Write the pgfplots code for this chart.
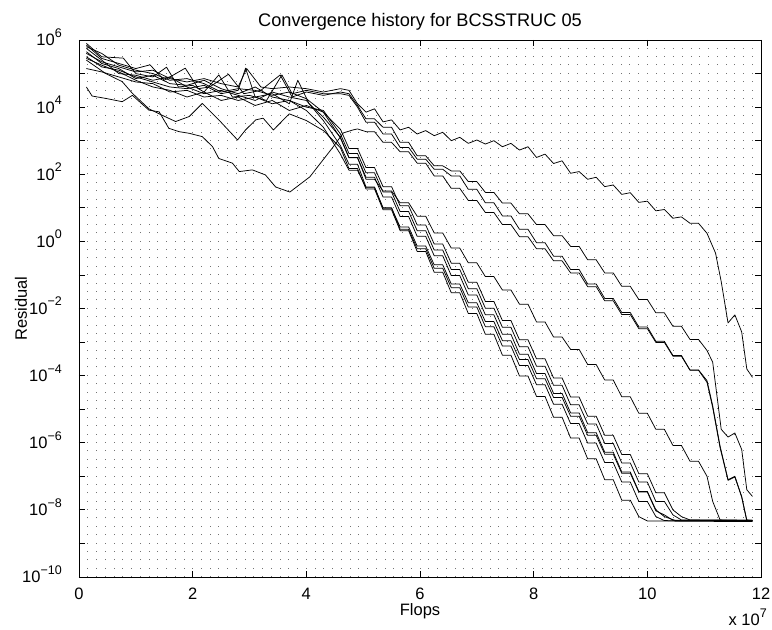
\documentclass[border=0pt]{standalone}
\usepackage{fontspec}
\setmainfont{Liberation Sans}
\usepackage{pgfplots}
\pgfplotsset{compat=1.18}
\newcommand{\ep}[1]{10\raisebox{8.5pt}{\fontsize{12.5}{12.5}\selectfont #1}}

\begin{document}
\begin{tikzpicture}
\begin{axis}[
  width=682pt, height=537pt, scale only axis,
  xmin=0, xmax=12,
  ymode=log, ymin=1e-10, ymax=1e6,
  xtick={0,2,4,6,8,10,12},
  xticklabels={0,2,4,6,8,10,12},
  minor x tick num=12,
  ytick={1e-10,1e-9,1e-8,1e-7,1e-6,1e-5,1e-4,1e-3,1e-2,1e-1,1,1e1,1e2,1e3,1e4,1e5,1e6},
  yticklabels={\ep{−10},,\ep{−8},,\ep{−6},,\ep{−4},,\ep{−2},,\ep{0},,\ep{2},,\ep{4},,\ep{6}},
  yminorticks=false,
  tick align=inside,
  major tick length=6pt, minor tick length=0pt,
  tick style={black, line width=0.8pt},
  axis line style={black, line width=0.8pt},
  xmajorgrids=true, xminorgrids=true,
  major grid style={black!55, line width=0.8pt, dash pattern=on 0.8pt off 7.59pt},
  minor grid style={black!55, line width=0.8pt, dash pattern=on 0.8pt off 7.59pt},
  tick label style={font=\fontsize{16.5}{19}\selectfont, inner sep=0pt},
  xticklabel style={anchor=base, yshift=-22.3pt},
  yticklabel style={anchor=base east, xshift=-17pt, yshift=-5.9pt},
  clip=false,
  ln/.style={black, line width=0.75pt, line join=round},
]
% A: slowest, top curve
\addplot[ln] coordinates {(0.13,3.98e5)(0.4,2.24e5)(0.7,1.58e5)(1.0,1.12e5)(1.3,1.26e5)(1.6,7.08e4)(1.9,5.62e4)(2.2,7.08e4)(2.5,5.01e4)(2.8,3.98e4)(2.95,1.41e5)(3.2,3.98e4)(3.4,3.55e4)(3.7,3.98e4)(4.0,3.55e4)(4.3,2.82e4)(4.6,3.55e4)(4.75,3.16e4)(4.9,1.26e4)(5.05,7.08e3)(5.2,8.91e3)(5.35,3.63e3)(5.5,4.17e3)(5.65,2.09e3)(5.8,2.51e3)(5.95,1.58e3)(6.1,2.0e3)(6.25,1.41e3)(6.4,1.78e3)(6.55,1.0e3)(6.7,1.26e3)(6.85,832)(7.0,1.05e3)(7.15,794)(7.3,1.0e3)(7.45,661)(7.6,832)(7.75,525)(7.9,661)(8.05,316)(8.2,398)(8.35,209)(8.5,251)(8.65,107)(8.8,120)(8.95,70.8)(9.1,81.3)(9.25,42.7)(9.4,47.9)(9.55,25.1)(9.7,28.2)(9.85,14.5)(10.0,15.8)(10.15,8.13)(10.3,8.91)(10.45,4.90)(10.6,5.37)(10.75,3.47)(10.9,3.47)(11.05,1.74)(11.2,0.447)(11.3,0.0631)(11.42,3.72e-3)(11.54,6.46e-3)(11.66,2.0e-3)(11.75,1.58e-4)(11.85,8.91e-5)};
% B
\addplot[ln] coordinates {(0.13,7.08e5)(0.4,2.82e5)(0.7,2.0e5)(1.0,1.41e5)(1.25,1.82e5)(1.5,6.31e4)(1.87,1.45e5)(2.1,3.55e4)(2.3,3.98e4)(2.63,9.55e4)(2.9,2.51e4)(3.2,3.16e4)(3.54,9.12e4)(3.75,2.0e4)(4.0,2.82e4)(4.3,2.24e4)(4.6,2.82e4)(4.75,2.51e4)(4.9,1.12e4)(5.05,4.47e3)(5.2,4.47e3)(5.35,2.51e3)(5.5,2.51e3)(5.65,891)(5.8,891)(5.95,355)(6.1,355)(6.25,178)(6.4,178)(6.55,126)(6.7,126)(6.85,60.3)(7.0,60.3)(7.15,28.8)(7.3,28.8)(7.45,13.8)(7.6,13.8)(7.75,6.61)(7.9,6.61)(8.05,3.16)(8.2,3.16)(8.35,1.48)(8.5,1.48)(8.65,0.708)(8.8,0.708)(8.95,0.282)(9.1,0.282)(9.25,0.115)(9.4,0.115)(9.55,0.0457)(9.7,0.0457)(9.85,0.0186)(10.0,0.0186)(10.15,7.41e-3)(10.3,7.41e-3)(10.45,2.95e-3)(10.6,2.95e-3)(10.75,1.20e-3)(10.9,1.20e-3)(11.05,5.62e-4)(11.15,2.51e-4)(11.3,2.51e-6)(11.42,1.48e-6)(11.54,1.95e-6)(11.66,6.31e-7)(11.75,3.98e-8)(11.85,2.51e-8)};
% C
\addplot[ln] coordinates {(0.13,7.94e5)(0.4,3.16e5)(0.78,2.88e5)(1.0,1.0e5)(1.3,7.94e4)(1.54,1.55e5)(1.75,3.98e4)(2.0,4.47e4)(2.2,2.82e4)(2.46,9.12e4)(2.7,2.0e4)(3.0,2.24e4)(3.3,1.58e4)(3.57,9.12e4)(3.75,2.51e4)(4.0,3.16e4)(4.3,2.51e4)(4.6,2.51e4)(4.75,2.24e4)(4.9,1.0e4)(5.05,3.55e3)(5.2,3.55e3)(5.35,1.58e3)(5.5,1.58e3)(5.65,631)(5.8,631)(5.95,282)(6.1,282)(6.25,141)(6.4,141)(6.55,89.1)(6.7,89.1)(6.85,35.5)(7.0,35.5)(7.15,14.1)(7.3,14.1)(7.45,5.75)(7.6,5.75)(7.75,2.29)(7.9,2.29)(8.05,0.912)(8.2,0.912)(8.35,0.363)(8.5,0.363)(8.65,0.145)(8.8,0.145)(8.95,0.0537)(9.1,0.0537)(9.25,0.02)(9.4,0.02)(9.55,7.59e-3)(9.7,7.59e-3)(9.85,2.82e-3)(10.0,2.82e-3)(10.15,1.05e-3)(10.3,1.05e-3)(10.45,3.98e-4)(10.6,3.98e-4)(10.75,1.48e-4)(10.9,1.48e-4)(11.05,7.08e-5)(11.15,1.26e-5)(11.28,7.94e-7)(11.42,7.94e-8)(11.54,1.0e-7)(11.66,2.51e-8)(11.75,5.01e-9)(11.85,4.79e-9)};
% D (low start, dip near x=3.7)
\addplot[ln] coordinates {(0.13,3.98e4)(0.23,2.14e4)(0.47,1.82e4)(0.76,1.45e4)(0.94,2.24e4)(1.23,8.13e3)(1.41,7.24e3)(1.58,2.34e3)(1.76,1.86e3)(1.94,1.66e3)(2.17,1.32e3)(2.35,661)(2.46,295)(2.7,214)(2.82,120)(3.05,135)(3.28,95.5)(3.46,41.7)(3.71,29.5)(4.06,83.2)(4.47,646)(4.65,1.70e3)(4.82,2.09e3)(4.9,2.24e3)(5.05,1.86e3)(5.2,1.86e3)(5.35,891)(5.5,891)(5.65,468)(5.8,468)(5.95,214)(6.1,214)(6.25,89.1)(6.4,89.1)(6.55,38.0)(6.7,38.0)(6.85,16.6)(7.0,16.6)(7.15,7.24)(7.3,7.24)(7.45,3.16)(7.6,3.16)(7.75,1.38)(7.9,1.38)(8.05,0.603)(8.2,0.603)(8.35,0.263)(8.5,0.263)(8.65,0.115)(8.8,0.115)(8.95,0.0447)(9.1,0.0447)(9.25,0.0170)(9.4,0.0170)(9.55,6.61e-3)(9.7,6.61e-3)(9.85,2.51e-3)(10.0,2.51e-3)(10.15,9.77e-4)(10.3,9.77e-4)(10.45,3.80e-4)(10.6,3.80e-4)(10.75,1.45e-4)(10.9,1.45e-4)(11.05,6.31e-5)(11.15,1.12e-5)(11.28,7.08e-7)(11.42,7.59e-8)(11.54,9.55e-8)(11.66,2.40e-8)(11.75,4.68e-9)(11.85,4.57e-9)};
% M
\addplot[ln] coordinates {(0.13,3.16e5)(0.4,1.58e5)(0.7,1.26e5)(1.0,7.94e4)(1.3,5.62e4)(1.6,3.98e4)(1.9,3.55e4)(2.2,4.47e4)(2.5,2.51e4)(2.8,3.16e4)(2.93,1.45e5)(3.1,2.0e4)(3.4,2.51e4)(3.7,1.26e4)(3.85,6.31e4)(4.05,1.26e4)(4.3,5.01e3)(4.6,1.26e3)(4.75,316)(4.9,316)(5.05,70.8)(5.2,70.8)(5.35,31.6)(5.5,31.6)(5.65,14.1)(5.8,14.1)(5.95,5.62)(6.1,5.62)(6.25,1.78)(6.4,1.78)(6.55,0.631)(6.7,0.631)(6.85,0.229)(7.0,0.229)(7.15,0.0891)(7.3,0.0891)(7.45,0.0355)(7.6,0.0355)(7.75,0.0135)(7.9,0.0135)(8.05,3.98e-3)(8.2,3.98e-3)(8.35,1.41e-3)(8.5,1.41e-3)(8.65,6.03e-4)(8.8,6.03e-4)(8.95,2.14e-4)(9.1,2.14e-4)(9.25,7.41e-5)(9.4,7.41e-5)(9.55,2.34e-5)(9.7,2.34e-5)(9.85,7.59e-6)(10.0,7.59e-6)(10.15,2.51e-6)(10.3,2.51e-6)(10.45,8.32e-7)(10.6,8.32e-7)(10.75,2.82e-7)(10.9,2.82e-7)(11.05,1.0e-7)(11.15,1.78e-8)(11.28,5.01e-9)(11.85,4.9e-9)};
% F1..F6: fast group
\addplot[ln] coordinates {(0.13,2.51e5)(0.47,1.0e5)(0.76,5.75e4)(0.94,2.57e4)(1.23,8.91e3)(1.41,6.31e3)(1.7,3.72e3)(1.94,5.25e3)(2.17,1.29e4)(2.46,4.17e3)(2.79,1.05e3)(2.93,2.09e3)(3.11,4.17e3)(3.24,4.68e3)(3.42,2.09e3)(3.7,6.31e3)(4.0,3.98e3)(4.3,2.0e3)(4.6,617)(4.75,148)(4.9,148)(5.05,36.3)(5.2,36.3)(5.35,8.71)(5.5,8.71)(5.65,2.09)(5.8,2.09)(5.95,0.501)(6.1,0.501)(6.25,0.120)(6.4,0.120)(6.55,0.0295)(6.7,0.0295)(6.85,7.08e-3)(7.0,7.08e-3)(7.15,1.70e-3)(7.3,1.70e-3)(7.45,4.07e-4)(7.6,4.07e-4)(7.75,9.77e-5)(7.9,9.77e-5)(8.05,2.40e-5)(8.2,2.40e-5)(8.35,5.75e-6)(8.5,5.75e-6)(8.65,1.38e-6)(8.8,1.38e-6)(8.95,3.31e-7)(9.1,3.31e-7)(9.25,7.94e-8)(9.4,7.94e-8)(9.55,1.95e-8)(9.7,1.95e-8)(9.85,6.31e-9)(10.0,4.68e-9)(11.85,4.47e-9)};
\addplot[ln] coordinates {(0.13,1.41e5)(0.4,1.12e5)(0.7,7.94e4)(1.0,5.62e4)(1.3,5.01e4)(1.6,2.82e4)(1.9,3.16e4)(2.2,2.0e4)(2.5,2.24e4)(2.8,1.58e4)(3.1,2.0e4)(3.4,1.26e4)(3.7,1.58e4)(4.0,7.94e3)(4.3,2.51e3)(4.6,398)(4.75,132)(4.9,132)(5.05,39.8)(5.2,39.8)(5.35,10)(5.5,10)(5.65,2.29)(5.8,2.29)(5.95,0.603)(6.1,0.603)(6.25,0.158)(6.4,0.158)(6.55,0.0417)(6.7,0.0417)(6.85,0.011)(7.0,0.011)(7.15,2.88e-3)(7.3,2.88e-3)(7.45,7.59e-4)(7.6,7.59e-4)(7.75,2.0e-4)(7.9,2.0e-4)(8.05,5.37e-5)(8.2,5.37e-5)(8.35,1.41e-5)(8.5,1.41e-5)(8.65,3.72e-6)(8.8,3.72e-6)(8.95,9.77e-7)(9.1,9.77e-7)(9.25,2.57e-7)(9.4,2.57e-7)(9.55,6.76e-8)(9.7,6.76e-8)(9.85,1.78e-8)(10.0,1.78e-8)(10.15,6.31e-9)(10.3,4.79e-9)(11.85,4.68e-9)};
\addplot[ln] coordinates {(0.13,5.62e5)(0.4,2.51e5)(0.7,1.0e5)(1.0,8.91e4)(1.3,6.31e4)(1.6,7.94e4)(1.9,3.98e4)(2.2,2.51e4)(2.5,3.16e4)(2.8,2.24e4)(3.1,1.58e4)(3.4,2.82e4)(3.7,2.0e4)(4.0,1.58e4)(4.3,3.98e3)(4.6,708)(4.75,200)(4.9,200)(5.05,41.7)(5.2,41.7)(5.35,9.77)(5.5,9.77)(5.65,2.69)(5.8,2.69)(5.95,0.724)(6.1,0.724)(6.25,0.2)(6.4,0.2)(6.55,0.0537)(6.7,0.0537)(6.85,0.0148)(7.0,0.0148)(7.15,4.07e-3)(7.3,4.07e-3)(7.45,1.10e-3)(7.6,1.10e-3)(7.75,3.02e-4)(7.9,3.02e-4)(8.05,8.13e-5)(8.2,8.13e-5)(8.35,2.24e-5)(8.5,2.24e-5)(8.65,6.17e-6)(8.8,6.17e-6)(8.95,1.66e-6)(9.1,1.66e-6)(9.25,4.57e-7)(9.4,4.57e-7)(9.55,1.23e-7)(9.7,1.23e-7)(9.85,3.39e-8)(10.0,3.39e-8)(10.15,9.33e-9)(10.3,7.08e-9)(10.45,4.9e-9)(11.85,4.9e-9)};
\addplot[ln] coordinates {(0.13,6.31e5)(0.4,3.98e5)(0.7,1.78e5)(1.0,1.26e5)(1.3,1.0e5)(1.6,6.31e4)(1.9,7.08e4)(2.2,5.01e4)(2.5,2.82e4)(2.8,3.55e4)(3.1,3.16e4)(3.4,2.24e4)(3.7,2.82e4)(4.0,1.78e4)(4.3,7.08e3)(4.6,1.20e3)(4.75,309)(4.9,309)(5.05,81.3)(5.2,81.3)(5.35,20.9)(5.5,20.9)(5.65,5.5)(5.8,5.5)(5.95,1.41)(6.1,1.41)(6.25,0.372)(6.4,0.372)(6.55,0.0955)(6.7,0.0955)(6.85,0.0251)(7.0,0.0251)(7.15,6.46e-3)(7.3,6.46e-3)(7.45,1.70e-3)(7.6,1.70e-3)(7.75,4.37e-4)(7.9,4.37e-4)(8.05,1.15e-4)(8.2,1.15e-4)(8.35,2.95e-5)(8.5,2.95e-5)(8.65,7.76e-6)(8.8,7.76e-6)(8.95,2.0e-6)(9.1,2.0e-6)(9.25,5.25e-7)(9.4,5.25e-7)(9.55,1.35e-7)(9.7,1.35e-7)(9.85,3.55e-8)(10.0,3.55e-8)(10.15,1.0e-8)(10.3,6.31e-9)(10.5,4.79e-9)(11.85,4.68e-9)};
\addplot[ln] coordinates {(0.13,4.47e5)(0.4,2.0e5)(0.7,1.41e5)(1.0,7.08e4)(1.3,8.91e4)(1.6,5.01e4)(1.9,4.47e4)(2.2,6.31e4)(2.5,3.55e4)(2.8,2.51e4)(3.1,3.98e4)(3.4,2.0e4)(3.7,1.58e4)(4.0,1.0e4)(4.3,7.94e3)(4.6,1.58e3)(4.75,417)(4.9,417)(5.05,110)(5.2,110)(5.35,29.5)(5.5,29.5)(5.65,7.76)(5.8,7.76)(5.95,2.09)(6.1,2.09)(6.25,0.550)(6.4,0.550)(6.55,0.145)(6.7,0.145)(6.85,0.0389)(7.0,0.0389)(7.15,0.0102)(7.3,0.0102)(7.45,2.75e-3)(7.6,2.75e-3)(7.75,7.24e-4)(7.9,7.24e-4)(8.05,1.91e-4)(8.2,1.91e-4)(8.35,5.13e-5)(8.5,5.13e-5)(8.65,1.35e-5)(8.8,1.35e-5)(8.95,3.63e-6)(9.1,3.63e-6)(9.25,9.55e-7)(9.4,9.55e-7)(9.55,2.51e-7)(9.7,2.51e-7)(9.85,6.76e-8)(10.0,6.76e-8)(10.15,1.78e-8)(10.3,1.78e-8)(10.45,7.08e-9)(10.6,5.01e-9)(11.85,4.79e-9)};
\addplot[ln] coordinates {(0.13,2.82e5)(0.4,1.78e5)(0.7,1.12e5)(1.0,6.31e4)(1.3,3.98e4)(1.6,3.16e4)(1.9,2.0e4)(2.2,2.82e4)(2.5,1.58e4)(2.8,2.0e4)(3.1,1.12e4)(3.4,1.58e4)(3.7,7.94e3)(4.0,1.12e4)(4.3,7.08e3)(4.6,2.19e3)(4.75,589)(4.9,589)(5.05,158)(5.2,158)(5.35,42.7)(5.5,42.7)(5.65,11.5)(5.8,11.5)(5.95,3.09)(6.1,3.09)(6.25,0.832)(6.4,0.832)(6.55,0.224)(6.7,0.224)(6.85,0.0603)(7.0,0.0603)(7.15,0.0162)(7.3,0.0162)(7.45,4.37e-3)(7.6,4.37e-3)(7.75,1.17e-3)(7.9,1.17e-3)(8.05,3.16e-4)(8.2,3.16e-4)(8.35,8.51e-5)(8.5,8.51e-5)(8.65,2.29e-5)(8.8,2.29e-5)(8.95,6.17e-6)(9.1,6.17e-6)(9.25,1.66e-6)(9.4,1.66e-6)(9.55,4.47e-7)(9.7,4.47e-7)(9.85,1.20e-7)(10.0,1.20e-7)(10.15,3.24e-8)(10.3,3.24e-8)(10.45,1.0e-8)(10.6,6.31e-9)(10.75,5.01e-9)(11.85,4.9e-9)};

\coordinate (sw) at (rel axis cs:0,0);
\coordinate (ne) at (rel axis cs:1,1);
\node[anchor=base, font=\fontsize{18.2}{21}\selectfont] at ([yshift=13.3pt]rel axis cs:0.5,1) {Convergence history for BCSSTRUC 05};
\node[anchor=base, inner sep=0pt, font=\fontsize{16.5}{19}\selectfont] at ([yshift=-38.5pt]rel axis cs:0.5,0) {Flops};
\node[anchor=base, rotate=90, font=\fontsize{16.5}{19}\selectfont] at ([xshift=-52pt]rel axis cs:0,0.5) {Residual};
\node[anchor=base east, font=\fontsize{16.5}{19}\selectfont, inner sep=0pt] at ([xshift=6pt,yshift=-48.5pt]rel axis cs:1,0) {x \ep{7}};
\end{axis}
\pgfresetboundingbox
\path ([shift={(-79pt,-52pt)}]sw) rectangle ([shift={(11pt,40pt)}]ne);
\end{tikzpicture}
\end{document}
